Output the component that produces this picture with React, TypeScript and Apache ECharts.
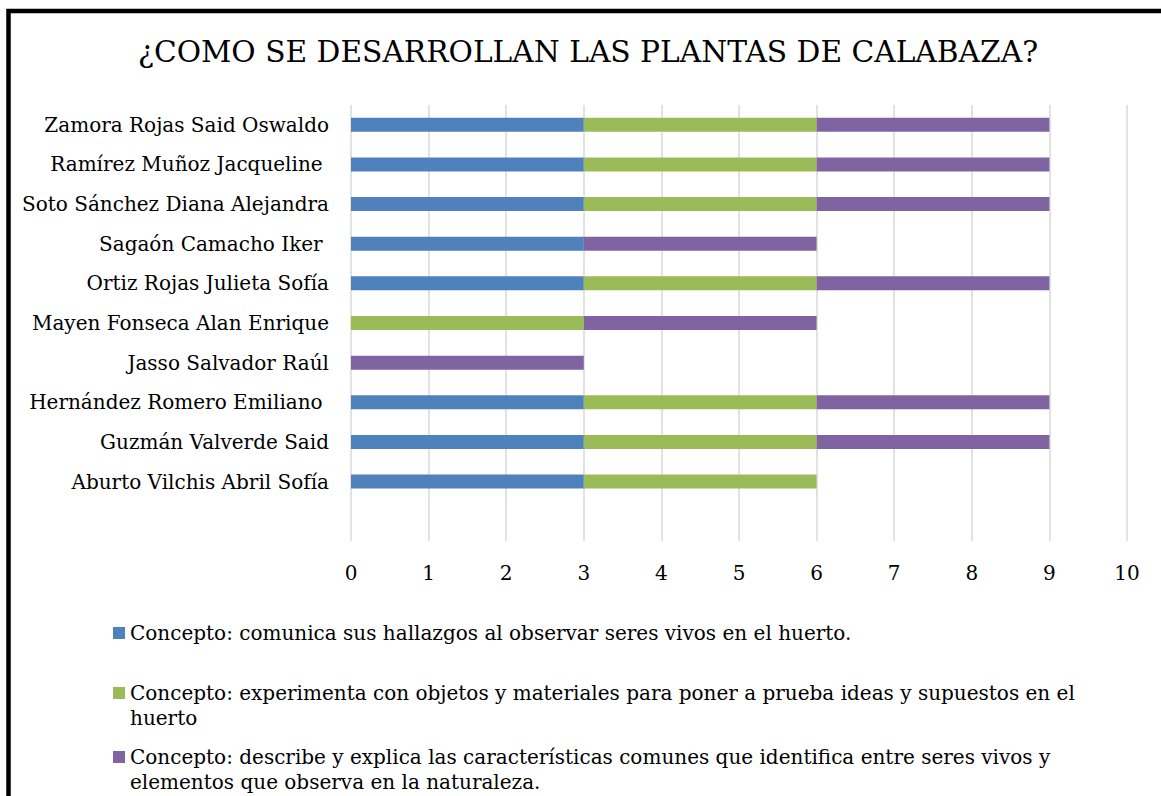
import React, { useEffect, useRef } from "react";
import * as echarts from "echarts";

const TITLE = "¿COMO SE DESARROLLAN LAS PLANTAS DE CALABAZA?";

// bottom-to-top order (first entry is the empty band under the last student)
const categories = [
  "",
  "Aburto Vilchis Abril Sofía",
  "Guzmán Valverde Said",
  "Hernández Romero Emiliano ",
  "Jasso Salvador Raúl",
  "Mayen Fonseca Alan Enrique",
  "Ortiz Rojas Julieta Sofía",
  "Sagaón Camacho Iker ",
  "Soto Sánchez Diana Alejandra",
  "Ramírez Muñoz Jacqueline ",
  "Zamora Rojas Said Oswaldo",
];

const seriesNames = [
  "Concepto: comunica sus hallazgos al observar seres vivos en el huerto.",
  "Concepto: experimenta con objetos y materiales para poner a prueba ideas y supuestos en el huerto",
  "Concepto: describe y explica las características comunes que identifica entre seres vivos y elementos que observa en la naturaleza.",
];

const comunica = [null, 3, 3, 3, 0, 0, 3, 3, 3, 3, 3];
const experimenta = [null, 3, 3, 3, 0, 3, 3, 0, 3, 3, 3];
const describe = [null, 0, 3, 3, 3, 3, 3, 3, 3, 3, 3];

const xTicks = { min: 0, max: 10, interval: 1 };

const colors = ["#4f81bd", "#9bbb59", "#8064a2"];

const FONT = "DejaVu Serif";

function wrapLegend(n: string): string {
  // a leading empty line keeps the first text line level with the colour square
  if (n === seriesNames[1]) return "\n" + n.replace(/ huerto$/, "\nhuerto");
  if (n === seriesNames[2]) return "\n" + n.replace(" elementos", "\nelementos");
  return n;
}

export default function App() {
  const ref = useRef<HTMLDivElement>(null);
  useEffect(() => {
    if (!ref.current) return;
    const chart = echarts.init(ref.current, undefined, { renderer: "svg" });
    const LH = 25;
    const legendBase = {
      orient: "vertical" as const,
      left: 113,
      padding: 0,
      icon: "rect",
      itemWidth: 12,
      itemHeight: 12,
      selectedMode: false,
      formatter: wrapLegend,
      textStyle: {
        fontFamily: FONT,
        fontSize: 20,
        color: "#000",
        lineHeight: LH,
      },
    };
    chart.setOption({
      animation: false,
      backgroundColor: "#fff",
      color: colors,
      title: {
        text: TITLE,
        left: 138,
        top: 36,
        padding: 0,
        textStyle: { fontFamily: FONT, fontSize: 29.7, fontWeight: "normal", color: "#000" },
      },
      grid: { left: 351, right: 34, top: 105, bottom: 255, containLabel: false },
      xAxis: {
        type: "value",
        min: xTicks.min,
        max: xTicks.max,
        interval: xTicks.interval,
        axisLine: { show: false },
        axisTick: { show: false },
        splitLine: { show: true, lineStyle: { color: "#d9d9d9", width: 1.5 } },
        axisLabel: { fontFamily: FONT, fontSize: 20, color: "#000", margin: 22 },
      },
      yAxis: {
        type: "category",
        data: categories,
        axisLine: { show: false },
        axisTick: { show: false },
        splitLine: { show: false },
        axisLabel: { fontFamily: FONT, fontSize: 20, color: "#000", margin: 22 },
      },
      legend: [
        { ...legendBase, top: 620.5, data: [seriesNames[0]] },
        { ...legendBase, top: 655.5, data: [seriesNames[1]] },
        { ...legendBase, top: 719.5, data: [seriesNames[2]] },
      ],
      series: [comunica, experimenta, describe].map((d, i) => ({
        type: "bar",
        name: seriesNames[i],
        stack: "total",
        data: d,
        barWidth: 14,
        itemStyle: { color: colors[i] },
      })),
      graphic: [
        {
          type: "rect",
          shape: { x: 8.5, y: 11, width: 1400, height: 1000 },
          style: { fill: "none", stroke: "#000", lineWidth: 4.5 },
          silent: true,
          z: 100,
        },
      ],
    });
    return () => chart.dispose();
  }, []);
  return (
    <div
      ref={ref}
      style={{ position: "absolute", left: 0, top: 0, width: 1161, height: 796 }}
    />
  );
}
